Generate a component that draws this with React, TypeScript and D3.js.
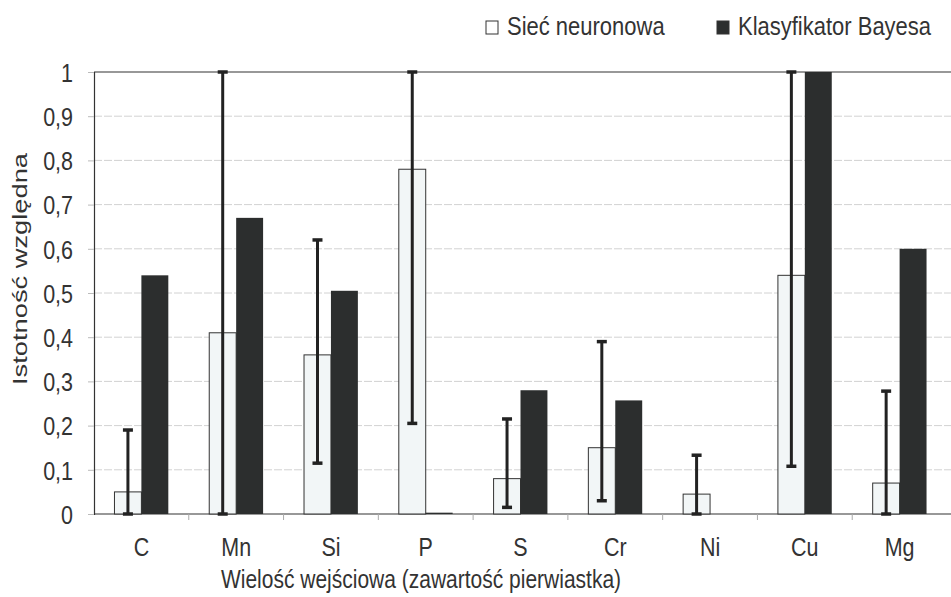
import React, { useEffect, useRef } from 'react';
import * as d3 from 'd3';

const categories = ['C', 'Mn', 'Si', 'P', 'S', 'Cr', 'Ni', 'Cu', 'Mg'];
const seriesNames = ['Sieć neuronowa', 'Klasyfikator Bayesa'];
const neuralValues = [0.05, 0.41, 0.36, 0.78, 0.08, 0.15, 0.045, 0.54, 0.07];
const bayesValues = [0.54, 0.67, 0.505, 0.003, 0.28, 0.257, 0, 1.0, 0.6];
const errLow = [0, 0, 0.115, 0.205, 0.015, 0.03, 0, 0.108, 0];
const errHigh = [0.19, 1, 0.62, 1, 0.215, 0.39, 0.133, 1, 0.278];
const yTicks = [0, 0.1, 0.2, 0.3, 0.4, 0.5, 0.6, 0.7, 0.8, 0.9, 1];

const W = 951;
const H = 597;
const FONT = 'Liberation Sans, Arial, sans-serif';
const STRETCH = 1.2; // the scanned text is taller than it is wide

export default function App() {
  const ref = useRef<SVGSVGElement>(null);

  useEffect(() => {
    const svg = d3.select(ref.current);
    svg.selectAll('*').remove();

    const left = 94, right = 947, top = 72, bottom = 514;
    const x = d3.scaleBand().domain(categories).range([left, right]);
    const inner = d3.scaleBand().domain(seriesNames).range([0, x.bandwidth()]).paddingOuter(0.76);
    const y = d3.scaleLinear().domain([0, 1]).range([bottom, top]);

    // grid
    svg.append('g')
      .selectAll('line')
      .data(yTicks.filter(t => t > 0 && t < 1))
      .join('line')
      .attr('x1', left).attr('x2', W)
      .attr('y1', d => y(d)).attr('y2', d => y(d))
      .attr('stroke', '#d2d2d2')
      .attr('stroke-dasharray', '8,2');

    // top line
    svg.append('line')
      .attr('x1', left).attr('x2', W).attr('y1', y(1)).attr('y2', y(1))
      .attr('stroke', '#333').attr('stroke-width', 1.2);

    // y axis
    const yAxis = d3.axisLeft(y).tickValues(yTicks).tickSize(6)
      .tickFormat(d => d3.format('.1~f')(d as number).replace('.', ','));
    const gy = svg.append('g').attr('transform', `translate(${left},0)`).call(yAxis);
    gy.select('.domain').attr('stroke', '#333').attr('stroke-width', 1.2);
    gy.selectAll('.tick line').attr('stroke', '#bbb');
    gy.selectAll('.tick text')
      .attr('x', -21)
      .attr('dy', '0.36em')
      .attr('transform', `scale(1,${STRETCH})`)
      .attr('font-family', FONT).attr('font-size', 21.5).attr('fill', '#333');

    // x axis
    const gx = svg.append('g').attr('transform', `translate(0,${bottom})`);
    gx.append('line').attr('x1', left).attr('x2', W).attr('stroke', '#333').attr('stroke-width', 1.2);
    gx.selectAll('line.tk')
      .data(categories.slice(1))
      .join('line')
      .attr('class', 'tk')
      .attr('x1', d => x(d)!).attr('x2', d => x(d)!)
      .attr('y1', 0).attr('y2', 6)
      .attr('stroke', '#aaa');
    gx.selectAll('text')
      .data(categories)
      .join('text')
      .attr('transform', d => `translate(${x(d)! + x.bandwidth() / 2},42) scale(1,${STRETCH})`)
      .attr('text-anchor', 'middle')
      .attr('font-family', FONT).attr('font-size', 21.5).attr('fill', '#333')
      .text(d => d);

    // bars
    const g = svg.append('g');
    g.selectAll('rect.nn')
      .data(categories)
      .join('rect')
      .attr('class', 'nn')
      .attr('x', d => x(d)! + inner(seriesNames[0])!)
      .attr('width', inner.bandwidth())
      .attr('y', (d, i) => y(neuralValues[i]))
      .attr('height', (d, i) => y(0) - y(neuralValues[i]))
      .attr('fill', '#f2f6f7')
      .attr('stroke', '#333').attr('stroke-width', 1);
    g.selectAll('rect.nb')
      .data(categories)
      .join('rect')
      .attr('class', 'nb')
      .attr('x', d => x(d)! + inner(seriesNames[1])!)
      .attr('width', inner.bandwidth())
      .attr('y', (d, i) => y(bayesValues[i]))
      .attr('height', (d, i) => y(0) - y(bayesValues[i]))
      .attr('fill', '#2c2e2e');

    // error bars
    const cx = (d: string) => x(d)! + inner(seriesNames[0])! + inner.bandwidth() / 2;
    const eb = svg.append('g').attr('stroke', '#222').attr('stroke-width', 3);
    categories.forEach((c, i) => {
      eb.append('line').attr('x1', cx(c)).attr('x2', cx(c)).attr('y1', y(errLow[i])).attr('y2', y(errHigh[i]));
      [errLow[i], errHigh[i]].forEach(v => {
        eb.append('line').attr('x1', cx(c) - 5).attr('x2', cx(c) + 5).attr('y1', y(v)).attr('y2', y(v)).attr('stroke-width', 3.5);
      });
    });

    // axis titles
    svg.append('text')
      .attr('transform', `translate(421,588) scale(1,${STRETCH})`)
      .attr('text-anchor', 'middle')
      .attr('font-family', FONT).attr('font-size', 21).attr('fill', '#333')
      .text('Wielość wejściowa (zawartość pierwiastka)');
    svg.append('text')
      .attr('transform', 'translate(27,269) rotate(-90) scale(1.3,1)')
      .attr('text-anchor', 'middle')
      .attr('font-family', FONT).attr('font-size', 21).attr('fill', '#333')
      .text('Istotność względna');

    // legend
    const lg = svg.append('g').attr('font-family', FONT).attr('font-size', 22).attr('fill', '#333');
    const items = [
      { name: seriesNames[0], x: 486, fill: '#fff' },
      { name: seriesNames[1], x: 717, fill: '#2c2e2e' },
    ];
    items.forEach(it => {
      lg.append('rect').attr('x', it.x).attr('y', 21).attr('width', 12).attr('height', 13)
        .attr('fill', it.fill).attr('stroke', '#333').attr('stroke-width', 1);
      lg.append('text').attr('transform', `translate(${it.x + 21},35) scale(1,${STRETCH})`).text(it.name);
    });
  }, []);

  return (
    <svg ref={ref} width={W} height={H} style={{ position: 'absolute', left: 0, top: 0, background: '#fff' }} />
  );
}
